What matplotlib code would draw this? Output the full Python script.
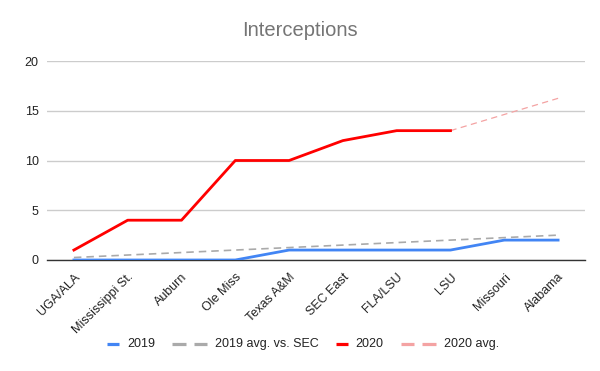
import matplotlib
matplotlib.use("Agg")
import matplotlib.pyplot as plt
from matplotlib.lines import Line2D

plt.rcParams['font.family'] = ['Liberation Sans', 'DejaVu Sans']

categories = ["UGA/ALA", "Mississippi St.", "Auburn", "Ole Miss", "Texas A&M",
              "SEC East", "FLA/LSU", "LSU", "Missouri", "Alabama"]
s2019 = [0, 0, 0, 0, 1, 1, 1, 1, 2, 2]
s2019_avg = [0.25, 0.5, 0.75, 1.0, 1.25, 1.5, 1.75, 2.0, 2.25, 2.5]
s2020 = [1, 4, 4, 10, 10, 12, 13, 13]
s2020_avg_idx = [7, 8, 9]
s2020_avg = [13, 14.625, 16.25]
yticks = [0, 5, 10, 15, 20]

W, H = 600, 371
fig = plt.figure(figsize=(W / 100, H / 100), dpi=100)
ax = fig.add_axes([47/W, 1-260/H, (585-47)/W, (260-61)/H])

x = list(range(len(categories)))
c2019, cavg19, c2020, cavg20 = "#4285f4", "#aaaaaa", "#ff0000", "#f4a3a3"
ax.plot(x, s2019, color=c2019, lw=2, zorder=3)
ax.plot(x, s2019_avg, color=cavg19, lw=1.2, dashes=(4.5, 3), zorder=2)
ax.plot(x[:len(s2020)], s2020, color=c2020, lw=2, zorder=4)
ax.plot(s2020_avg_idx, s2020_avg, color=cavg20, lw=0.9, dashes=(5, 3.5), zorder=2)

ax.set_xlim(-0.5, len(categories) - 0.5)
ax.set_ylim(0, 20)
ax.set_yticks(yticks)
ax.set_xticks(x)
ax.set_xticklabels(categories, rotation=45, ha="right", rotation_mode="anchor",
                   fontsize=9, color="#222222")
ax.tick_params(axis="y", length=0, pad=6, labelsize=9, labelcolor="#222222")
ax.tick_params(axis="x", length=0, pad=8)
ax.grid(axis="y", color="#cccccc", lw=1)
ax.set_axisbelow(True)
for sp in ["top", "right", "left"]:
    ax.spines[sp].set_visible(False)
ax.spines["bottom"].set_color("#333333")
ax.spines["bottom"].set_linewidth(1)

fig.text(0.5, 1-31/H, "Interceptions", ha="center", va="center",
         fontsize=14.5, color="#757575")

# manual legend (Google Sheets style: varying handle widths)
labels = ["2019", "2019 avg. vs. SEC", "2020", "2020 avg."]
colors = [c2019, cavg19, c2020, cavg20]
dashed = [False, True, False, True]
renderer = fig.canvas.get_renderer()
texts = []
for lab in labels:
    t = fig.text(0, 0, lab, fontsize=9, color="#222222", va="center", ha="left")
    texts.append(t)
widths = [t.get_window_extent(renderer).width for t in texts]
hw = [35 if d else 12 for d in dashed]
gap_h, gap_c = 8, 17
total = sum(hw) + sum(widths) + gap_h * 4 + gap_c * 3
xpos = 303 - total / 2
yleg = 1 - 344 / H
for i in range(4):
    if dashed[i]:
        for a, b in [(0, 13.5), (21.5, 35)]:
            fig.add_artist(Line2D([(xpos + a) / W, (xpos + b) / W], [yleg, yleg],
                                  color=colors[i], lw=2.3, solid_capstyle="butt"))
    else:
        fig.add_artist(Line2D([xpos / W, (xpos + hw[i]) / W], [yleg, yleg],
                              color=colors[i], lw=2.3, solid_capstyle="butt"))
    xpos += hw[i] + gap_h
    texts[i].set_position((xpos / W, yleg))
    xpos += widths[i] + gap_c

fig.savefig("out.png", dpi=100)
